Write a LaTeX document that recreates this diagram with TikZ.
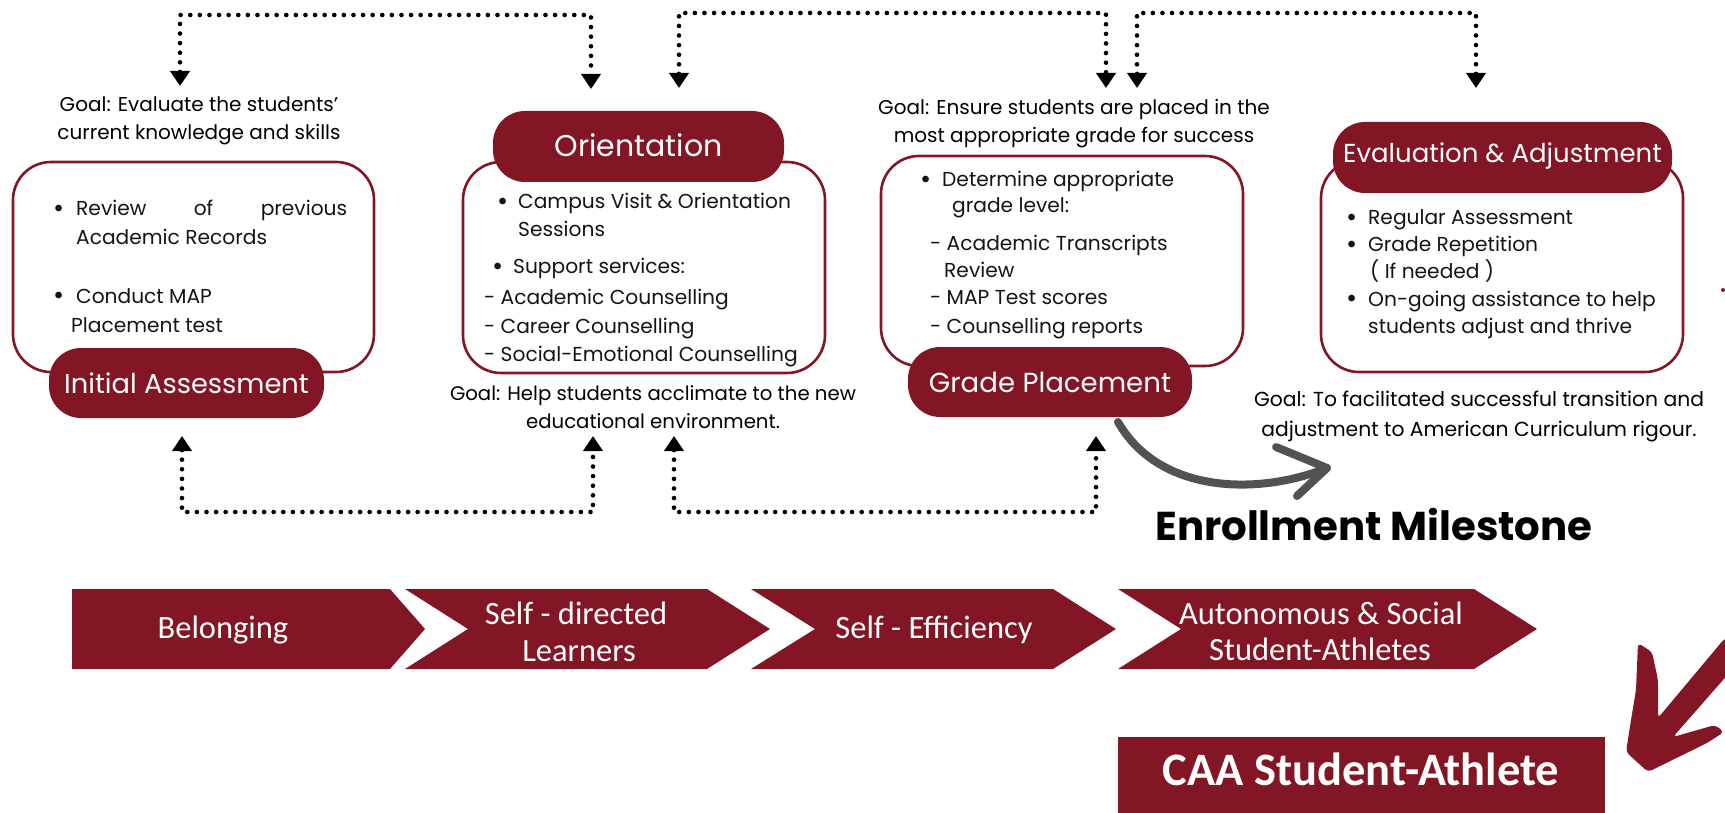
\documentclass[tikz,border=0pt]{standalone}
\usepackage{fontspec}
\setmainfont{Poppins}
\newfontfamily\chevfont{Carlito}
\usetikzlibrary{arrows.meta}
\definecolor{wine}{RGB}{131,22,37}
\definecolor{arrowgray}{RGB}{82,82,82}
\newcommand{\bigbul}{{\fontsize{27}{27}\selectfont •}}
\begin{document}
\begin{tikzpicture}[x=1pt,y=-1pt,
 body/.style={anchor=base west, inner sep=0pt, font=\fontsize{20.2}{26}\selectfont, text=black!92},
 goal/.style={anchor=base, inner sep=0pt, font=\fontsize{20}{26}\selectfont, text=black},
 pill/.style={fill=wine, rounded corners=32pt, text=white, inner sep=0pt, text height=20pt, text depth=0pt},
 outline/.style={draw=wine, line width=2.6pt, rounded corners=38pt},
 dotconn/.style={line width=4.6pt, dash pattern=on 0pt off 9.6pt, line cap=round,
   {Triangle[width=19pt,length=15pt]}-{Triangle[width=19pt,length=15pt]}},
 chevtext/.style={anchor=base, text=white, font=\chevfont\fontsize{32.5}{38}\selectfont, inner sep=0pt},
 grayarrow/.style={draw=arrowgray, line width=8pt, line cap=round, line join=round},
]
\useasboundingbox (0,0) rectangle (1725,813);
\clip (0,0) rectangle (1725,813);

% ---------- Box 1: Initial Assessment ----------
\draw[outline] (13,162) rectangle (374,372);
\node[pill, minimum width=275pt, minimum height=70pt, font=\fontsize{27.3}{32}\selectfont] (p1) at (186.5,383) {Initial Assessment};
\node[goal] (g1a) at (199,112) {Goal: Evaluate the students’};
\node[goal] (g1b) at (199,140) {current knowledge and skills};
\node[body] (b1a) at (53,218) {\bigbul};
\node[body] (t1a) at (76,216) {\makebox[271pt][s]{Review of previous}};
\node[body] (t1b) at (76,245) {Academic Records};
\node[body] (b1c) at (53,305) {\bigbul};
\node[body] (t1c) at (76,303) {Conduct MAP};
\node[body] (t1d) at (71,332) {Placement test};

% ---------- Box 2: Orientation ----------
\draw[outline] (463,162) rectangle (825,373);
\node[pill, minimum width=291pt, minimum height=71pt, font=\fontsize{30}{32}\selectfont] (p2) at (638.5,146.5) {Orientation};
\node[body] (b2a) at (497,211) {\bigbul};
\node[body] (t2a) at (518,209) {Campus Visit \& Orientation};
\node[body] (t2b) at (518,237) {Sessions};
\node[body] (b2c) at (492,276) {\bigbul};
\node[body] (t2c) at (513,274) {Support services:};
\node[body] (t2d) at (484,305) {- Academic Counselling};
\node[body] (t2e) at (484,333) {- Career Counselling};
\node[body] (t2f) at (484,361) {- Social-Emotional Counselling};
\node[goal, font=\fontsize{19.7}{26}\selectfont] (g2a) at (653,400) {Goal: Help students acclimate to the new};
\node[goal, font=\fontsize{19.7}{26}\selectfont] (g2b) at (653,428) {educational environment.};

% ---------- Box 3: Grade Placement ----------
\draw[outline] (881,156) rectangle (1243,366);
\node[pill, minimum width=284pt, minimum height=70pt, font=\fontsize{27.6}{32}\selectfont] (p3) at (1050,382) {Grade Placement};
\node[goal] (g3a) at (1074,115) {Goal: Ensure students are placed in the};
\node[goal] (g3b) at (1074,143) {most appropriate grade for success};
\node[body] (b3a) at (920,189) {\bigbul};
\node[body] (t3a) at (942,187) {Determine appropriate};
\node[body] (t3b) at (952,213) {grade level:};
\node[body] (t3c) at (930,251) {- Academic Transcripts};
\node[body] (t3d) at (944,277) {Review};
\node[body] (t3e) at (930,305) {- MAP Test scores};
\node[body] (t3f) at (930,333) {- Counselling reports};

% ---------- Box 4: Evaluation & Adjustment ----------
\draw[outline] (1321,160) rectangle (1683,372);
\node[pill, minimum width=339pt, minimum height=71pt, font=\fontsize{26}{30}\selectfont, text height=11pt] (p4) at (1502.5,157.5) {Evaluation \& Adjustment};
\node[body] (b4a) at (1346,227) {\bigbul};
\node[body] (t4a) at (1368,225) {Regular Assessment};
\node[body] (b4b) at (1346,254) {\bigbul};
\node[body] (t4b) at (1368,252) {Grade Repetition};
\node[body] (t4c) at (1370,279) {( If needed )};
\node[body] (b4d) at (1346,308) {\bigbul};
\node[body] (t4d) at (1368,306) {On-going assistance to help};
\node[body] (t4e) at (1368,333) {students adjust and thrive};
\node[goal, font=\fontsize{20.3}{26}\selectfont] (g4a) at (1479,406) {Goal: To facilitated successful transition and};
\node[goal, font=\fontsize{20.3}{26}\selectfont] (g4b) at (1479,436) {adjustment to American Curriculum rigour.};
\fill[wine] (1723,290) circle (2pt);

% ---------- dotted connectors ----------
\coordinate (ta1) at (180,86);  \coordinate (ta2) at (591,89);
\coordinate (tb1) at (679,88);  \coordinate (tb2) at (1106,88);
\coordinate (tc1) at (1137,88); \coordinate (tc2) at (1476,88);
\coordinate (ba1) at (182,436); \coordinate (ba2) at (593,436);
\coordinate (bb1) at (674,436); \coordinate (bb2) at (1096,436);
\draw[dotconn] (ta1) -- (180,15) -- (591,15) -- (ta2);
\draw[dotconn] (tb1) -- (679,13) -- (1106,13) -- (tb2);
\draw[dotconn] (tc1) -- (1137,13) -- (1476,13) -- (tc2);
\draw[dotconn] (ba1) -- (182,512) -- (593,512) -- (ba2);
\draw[dotconn] (bb1) -- (674,512) -- (1096,512) -- (bb2);

% ---------- gray curved arrow ----------
\coordinate (gs) at (1118,422);
\coordinate (gt) at (1327,468);
\draw[grayarrow] (gs) .. controls (1160,495) and (1260,495) .. (gt);
\draw[grayarrow] (1276,447) -- (gt) -- (1297,496);

\node[anchor=base west, inner sep=0pt, font=\fontsize{40.3}{48}\selectfont\bfseries] (em) at (1155,540) {Enrollment Milestone};

% ---------- chevrons ----------
\fill[wine] (72,589) -- (390,589) -- (425,629) -- (390,669) -- (72,669) -- cycle;
\fill[wine] (405,589) -- (707,589) -- (770,629) -- (707,669) -- (405,669) -- (468,629) -- cycle;
\fill[wine] (751,589) -- (1053,589) -- (1116,629) -- (1053,669) -- (751,669) -- (815,629) -- cycle;
\fill[wine] (1118,589) -- (1474,589) -- (1537,629) -- (1474,669) -- (1118,669) -- (1181,629) -- cycle;
\node[chevtext] (c1) at (223,638) {Belonging};
\node[chevtext] (c2a) at (576,624) {Self - directed};
\node[chevtext] (c2b) at (579,661) {Learners};
\node[chevtext] (c3) at (934,638) {Self - Efficiency};
\node[chevtext] (c4a) at (1321,624) {Autonomous \& Social};
\node[chevtext] (c4b) at (1320,660) {Student-Athletes};

% ---------- CAA box ----------
\fill[wine] (1118,737) rectangle (1605,830);
\node[anchor=base, inner sep=0pt, text=white, font=\chevfont\fontsize{46.5}{50}\selectfont\bfseries] (caa) at (1361,785) {CAA Student-Athlete};

% ---------- red hand-drawn arrow ----------
\fill[wine, rounded corners=4pt] (1638,643) -- (1652,652) -- (1658,680) -- (1658,718)
  -- (1725,638) -- (1730,638) -- (1730,672) -- (1673,737) -- (1715,725) -- (1724,732)
  -- (1707,743) -- (1648,772) -- (1626,752) -- (1631,720) -- (1636,690) -- cycle;
\end{tikzpicture}
\end{document}
